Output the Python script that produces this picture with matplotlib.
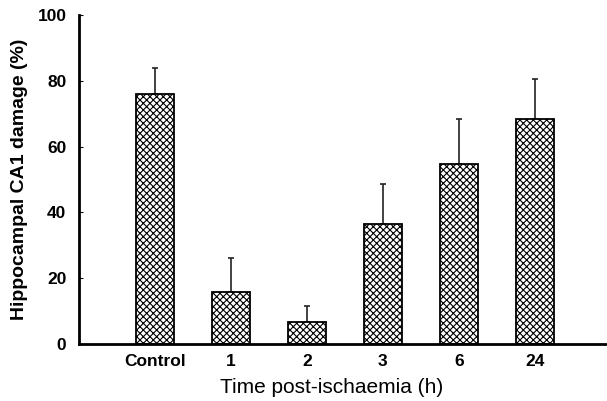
import numpy as np
import matplotlib.pyplot as plt

# values
groups = ["Control", "1", "2", "3", "6", "24"]
damage = [76, 15.8, 6.7, 36.5, 54.6, 68.4]
err_up = [8, 10.3, 4.8, 12.1, 13.8, 12.0]
y_ticks = [0, 20, 40, 60, 80, 100]

plt.rcParams['font.family'] = ['Liberation Sans', 'DejaVu Sans']
plt.rcParams['hatch.linewidth'] = 0.8

fig = plt.figure(figsize=(6.07, 4.01), dpi=100)
ax = fig.add_axes([0.130, 0.142, 0.870, 0.821])

x = np.arange(len(groups))
ax.bar(x, damage, width=0.5, color='white', edgecolor='black',
       hatch='xxxxx', linewidth=1.3, zorder=2)
ax.errorbar(x, damage, yerr=[np.zeros(len(err_up)), err_up], fmt='none',
            ecolor='#222222', elinewidth=1.2, capsize=2.5, capthick=1.2, zorder=1)

ax.set_xlim(-1.0, 5.95)
ax.set_ylim(0, 100)
ax.set_yticks(y_ticks)
ax.set_yticklabels([str(v) for v in y_ticks], fontsize=12.5, fontweight='bold')
ax.set_xticks(x)
ax.set_xticklabels(groups, fontsize=12.5, fontweight='bold')
ax.tick_params(axis='x', length=0, pad=7)
ax.tick_params(axis='y', direction='in', length=3, width=0.8, pad=9)

for s in ['top', 'right']:
    ax.spines[s].set_visible(False)
ax.spines['left'].set_linewidth(2)
ax.spines['bottom'].set_linewidth(2)

ax.set_ylabel("Hippocampal CA1 damage (%)", fontsize=14, fontweight='bold', labelpad=7)
ax.set_xlabel("Time post-ischaemia (h)", fontsize=15)
ax.xaxis.set_label_coords(0.478, -0.103)

fig.savefig("out.png", dpi=100)
